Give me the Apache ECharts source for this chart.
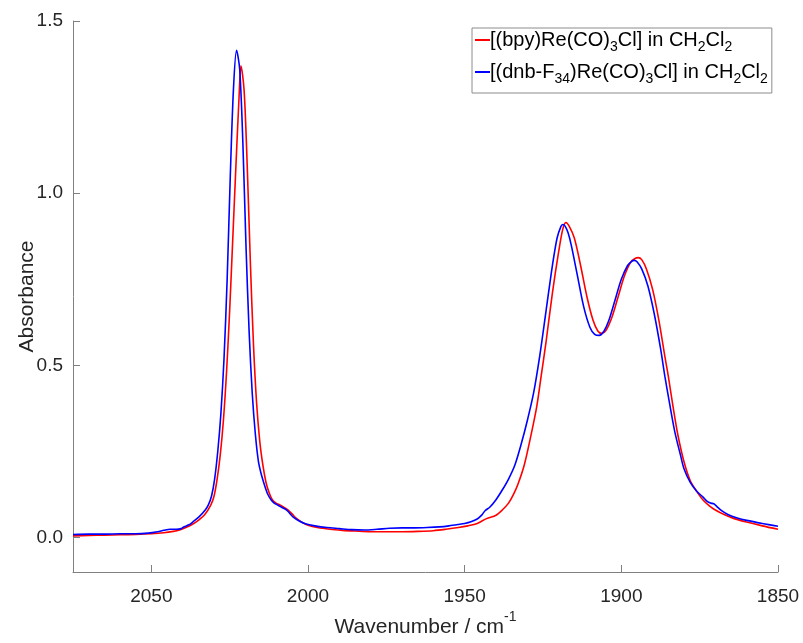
<!DOCTYPE html>
<html>
<head>
<meta charset="utf-8">
<script src="https://cdn.jsdelivr.net/npm/echarts@6/dist/echarts.min.js"></script>
<style>
  html, body { margin: 0; padding: 0; background: #fff; }
  #chart { width: 803px; height: 643px; }
</style>
</head>
<body>
<div id="chart"></div>
<script>
// IR spectra of the carbonyl stretching region (wavenumber in cm^-1, absorbance)
const bpyWavenumber = [
  2075, 2070, 2065, 2060, 2055, 2050, 2046, 2043, 2041, 2039, 2037, 2035, 2033, 2031, 2030, 2029, 2028, 2027, 2026, 2025,
  2024, 2023, 2022, 2021.4, 2020.4, 2019.4, 2018.4, 2017.4, 2016.4, 2015.4, 2014.4, 2013.4, 2012.4, 2011.4, 2010.2, 2009,
  2008, 2007, 2006, 2005, 2004, 2002, 2000, 1997, 1993, 1989, 1985, 1980, 1975, 1970, 1965, 1960, 1956, 1952, 1949, 1946,
  1943, 1940, 1938, 1936, 1934.5, 1933, 1931, 1929, 1927, 1925.6, 1924, 1922, 1920, 1918.7, 1917.7, 1916.7, 1915, 1913,
  1911, 1909, 1907.5, 1906.3, 1905, 1903, 1901, 1899, 1897, 1895.5, 1894.6, 1893.5, 1892, 1890, 1888, 1886, 1885, 1883.5,
  1882, 1880, 1878, 1876, 1874, 1872, 1870, 1867, 1864, 1860, 1855, 1850
];
const bpyAbsorbance = [
  0.005, 0.006, 0.007, 0.008, 0.009, 0.011, 0.014, 0.018, 0.022, 0.029, 0.038, 0.050, 0.066, 0.095, 0.12, 0.17, 0.24, 0.34, 0.48, 0.66,
  0.87, 1.08, 1.28, 1.37, 1.30, 1.08, 0.80, 0.56, 0.39, 0.28, 0.21, 0.16, 0.13, 0.11, 0.10, 0.095,
  0.09, 0.084, 0.077, 0.068, 0.058, 0.045, 0.036, 0.029, 0.024, 0.021, 0.019, 0.017, 0.017, 0.017, 0.018, 0.020, 0.024, 0.029, 0.034, 0.041,
  0.055, 0.065, 0.08, 0.10, 0.124, 0.155, 0.21, 0.29, 0.38, 0.468, 0.57, 0.71, 0.83, 0.895, 0.915, 0.905, 0.87, 0.79,
  0.70, 0.63, 0.60, 0.593, 0.60, 0.64, 0.70, 0.76, 0.80, 0.811, 0.813, 0.807, 0.78, 0.72, 0.63, 0.52, 0.468, 0.38,
  0.30, 0.22, 0.165, 0.135, 0.11, 0.093, 0.08, 0.066, 0.055, 0.045, 0.034, 0.024
];

const dnbWavenumber = [
  2075, 2070, 2065, 2060, 2055, 2051, 2048, 2046, 2044, 2042, 2040.5, 2039.8, 2038, 2036.8, 2034.8, 2032.8, 2031.8, 2030.8,
  2029.8, 2028.8, 2027.8, 2026.8, 2025.8, 2024.8, 2023.8, 2022.8, 2021.8, 2020.8, 2019.8, 2018.8, 2017.8, 2016.8, 2015.8,
  2014.8, 2013.8, 2012.8, 2011.8, 2010.8, 2009.8, 2008.8, 2007.8, 2006.8, 2005.8, 2004.8, 2002.8, 2000.8, 1997.8, 1994,
  1990, 1986, 1982, 1978, 1974, 1970, 1966, 1962, 1958, 1955, 1952, 1950, 1948, 1946, 1944.5, 1943.5, 1942, 1940, 1938,
  1936, 1934, 1932, 1930, 1928, 1926, 1924, 1922, 1920.5, 1919.3, 1918.7, 1918, 1917, 1916, 1914, 1912, 1910, 1908.5,
  1907.1, 1905.5, 1904, 1902, 1900, 1898, 1896.6, 1895.9, 1895, 1893.5, 1891.5, 1889.5, 1887.5, 1886.1, 1885, 1883, 1881,
  1880, 1878, 1876, 1874, 1872.5, 1871.5, 1870.5, 1869.5, 1868, 1866, 1863, 1860, 1855, 1850
];
const dnbAbsorbance = [
  0.009, 0.010, 0.010, 0.011, 0.011, 0.013, 0.017, 0.021, 0.024, 0.024, 0.026, 0.030, 0.037, 0.045, 0.060, 0.080, 0.095, 0.12,
  0.17, 0.25, 0.36, 0.52, 0.75, 1.05, 1.30, 1.415, 1.36, 1.15, 0.85, 0.60, 0.42, 0.30, 0.22,
  0.18, 0.15, 0.125, 0.11, 0.10, 0.095, 0.09, 0.085, 0.08, 0.07, 0.06, 0.048, 0.040, 0.034, 0.029,
  0.026, 0.023, 0.022, 0.024, 0.027, 0.028, 0.028, 0.029, 0.031, 0.034, 0.038, 0.041, 0.046, 0.054, 0.066, 0.078, 0.088, 0.11, 0.138,
  0.17, 0.21, 0.27, 0.34, 0.42, 0.53, 0.66, 0.79, 0.87, 0.903, 0.909, 0.905, 0.885, 0.85, 0.76, 0.67, 0.61, 0.59,
  0.587, 0.60, 0.63, 0.69, 0.75, 0.79, 0.803, 0.805, 0.801, 0.78, 0.73, 0.65, 0.55, 0.468, 0.41, 0.31, 0.235,
  0.20, 0.16, 0.135, 0.118, 0.104, 0.100, 0.098, 0.09, 0.078, 0.067, 0.057, 0.050, 0.041, 0.033
];

const xTicks = [2050, 2000, 1950, 1900, 1850];
const yTicks = [0, 0.5, 1.0, 1.5];

const seriesNames = ['[(bpy)Re(CO)3Cl] in CH2Cl2', '[(dnb-F34)Re(CO)3Cl] in CH2Cl2'];
const legendRich = {
  [seriesNames[0]]: '{t|[(bpy)Re(CO)}{s|3}{t|Cl] in CH}{s|2}{t|Cl}{s|2}',
  [seriesNames[1]]: '{t|[(dnb-F}{s|34}{t|)Re(CO)}{s|3}{t|Cl] in CH}{s|2}{t|Cl}{s|2}'
};

function pairs(xs, ys) {
  return xs.map((x, i) => [x, ys[i]]);
}

const FONT = '"Liberation Sans", Arial, Helvetica, sans-serif';
const TEXT = '#262626';
const chart = echarts.init(document.getElementById('chart'), null, { renderer: 'canvas' });

chart.setOption({
  animation: false,
  backgroundColor: '#ffffff',
  grid: { left: 73, right: 25, top: 21, bottom: 63, containLabel: false },
  xAxis: {
    type: 'value',
    inverse: true,
    min: 1850,
    max: 2075,
    name: '{t|Wavenumber / cm}{p|-1}',
    nameLocation: 'middle',
    nameGap: 38,
    nameMoveOverlap: false,
    nameTextStyle: {
      fontFamily: FONT,
      color: TEXT,
      rich: {
        t: { fontSize: 21, fontFamily: FONT, color: TEXT, lineHeight: 28, verticalAlign: 'bottom' },
        p: { fontSize: 14, fontFamily: FONT, color: TEXT, lineHeight: 14, verticalAlign: 'top' }
      }
    },
    axisLine: { show: true, onZero: false, lineStyle: { color: '#808080', width: 1 } },
    axisTick: { show: true, inside: true, length: 7, customValues: xTicks, lineStyle: { color: '#808080' } },
    axisLabel: {
      customValues: xTicks,
      fontSize: 19,
      fontFamily: FONT,
      color: TEXT,
      margin: 15,
      formatter: v => String(v)
    },
    splitLine: { show: false }
  },
  yAxis: {
    type: 'value',
    min: -0.1,
    max: 1.5,
    name: 'Absorbance',
    nameLocation: 'middle',
    nameGap: 35,
    nameMoveOverlap: false,
    nameTextStyle: { fontSize: 21, fontFamily: FONT, color: TEXT },
    axisLine: { show: true, onZero: false, lineStyle: { color: '#808080', width: 1 } },
    axisTick: { show: true, inside: true, length: 7, customValues: yTicks, lineStyle: { color: '#808080' } },
    axisLabel: {
      customValues: yTicks,
      fontSize: 19,
      fontFamily: FONT,
      color: TEXT,
      margin: 10,
      formatter: v => v.toFixed(1)
    },
    splitLine: { show: false }
  },
  legend: {
    orient: 'vertical',
    left: 472,
    top: 28,
    padding: [2, 4, 7, 3],
    itemGap: 8,
    itemWidth: 15,
    itemHeight: 2,
    icon: 'rect',
    borderColor: '#8c8c8c',
    borderWidth: 1,
    backgroundColor: '#ffffff',
    data: seriesNames,
    formatter: name => legendRich[name],
    textStyle: {
      fontFamily: FONT,
      color: '#000000',
      padding: [0, 0, 0, -5],
      rich: {
        t: { fontSize: 20, fontFamily: FONT, color: '#000', lineHeight: 28, verticalAlign: 'middle' },
        s: { fontSize: 14, fontFamily: FONT, color: '#000', lineHeight: 14, verticalAlign: 'bottom' }
      }
    }
  },
  series: [
    {
      name: seriesNames[0],
      type: 'line',
      data: pairs(bpyWavenumber, bpyAbsorbance),
      showSymbol: false,
      symbol: 'none',
      smooth: 0.3,
      lineStyle: { color: '#ff0000', width: 1.6 },
      itemStyle: { color: '#ff0000' },
      z: 2
    },
    {
      name: seriesNames[1],
      type: 'line',
      data: pairs(dnbWavenumber, dnbAbsorbance),
      showSymbol: false,
      symbol: 'none',
      smooth: 0.3,
      lineStyle: { color: '#0000ff', width: 1.6 },
      itemStyle: { color: '#0000ff' },
      z: 3
    }
  ]
});
</script>
</body>
</html>
